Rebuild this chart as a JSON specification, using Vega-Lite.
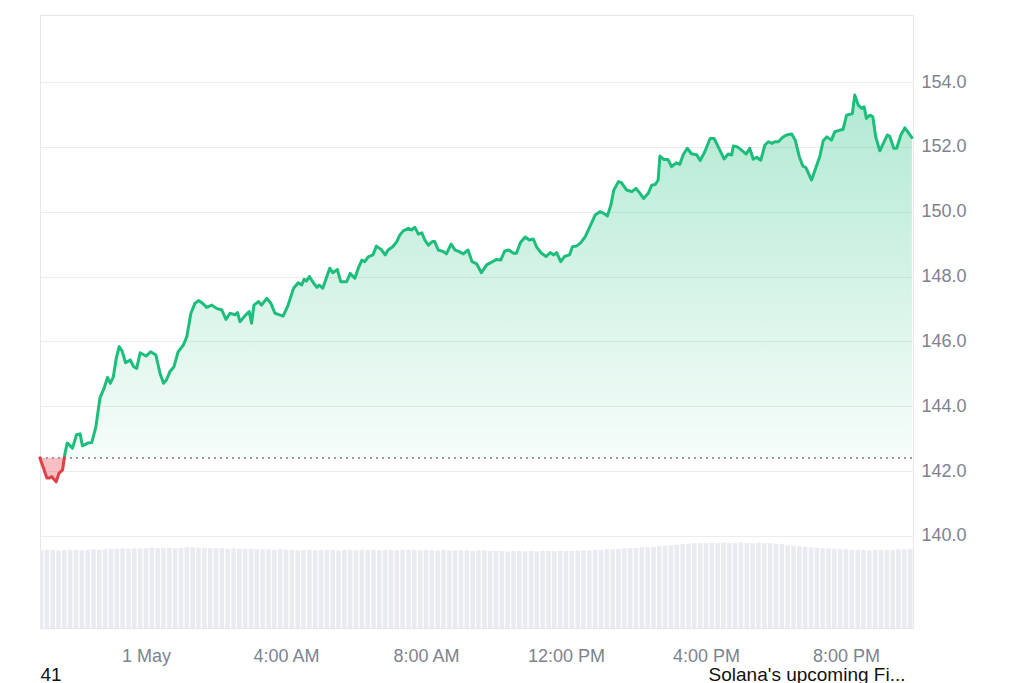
{
  "$schema": "https://vega.github.io/schema/vega-lite/v6.json",
  "width": 873,
  "height": 613,
  "autosize": {"type": "none"},
  "padding": {"left": 40, "top": 15, "right": 111, "bottom": 55},
  "background": "#ffffff",
  "config": {
    "view": {"stroke": "#e6e6e6", "strokeWidth": 1},
    "font": "Liberation Sans",
    "axis": {"labelFont": "Liberation Sans", "titleFont": "Liberation Sans"}
  },
  "datasets": {
    "price": [
      {"t":"2024-04-30T20:58:00Z","p":142.41},{"t":"2024-04-30T21:03:00Z","p":142.16},{"t":"2024-04-30T21:10:00Z","p":141.79},{"t":"2024-04-30T21:15:00Z","p":141.79},{"t":"2024-04-30T21:18:00Z","p":141.83},{"t":"2024-04-30T21:26:00Z","p":141.67},{"t":"2024-04-30T21:31:00Z","p":141.94},{"t":"2024-04-30T21:37:00Z","p":142.04},{"t":"2024-04-30T21:40:00Z","p":142.41},{"t":"2024-04-30T21:41:00Z","p":142.53},{"t":"2024-04-30T21:45:00Z","p":142.87},{"t":"2024-04-30T21:54:00Z","p":142.71},
      {"t":"2024-04-30T22:01:00Z","p":143.12},{"t":"2024-04-30T22:07:00Z","p":143.15},{"t":"2024-04-30T22:11:00Z","p":142.78},{"t":"2024-04-30T22:21:00Z","p":142.87},{"t":"2024-04-30T22:27:00Z","p":142.88},{"t":"2024-04-30T22:34:00Z","p":143.36},{"t":"2024-04-30T22:41:00Z","p":144.25},{"t":"2024-04-30T22:48:00Z","p":144.55},{"t":"2024-04-30T22:54:00Z","p":144.89},{"t":"2024-04-30T22:59:00Z","p":144.71},
      {"t":"2024-04-30T23:04:00Z","p":144.91},{"t":"2024-04-30T23:09:00Z","p":145.48},{"t":"2024-04-30T23:14:00Z","p":145.84},{"t":"2024-04-30T23:19:00Z","p":145.71},{"t":"2024-04-30T23:25:00Z","p":145.34},{"t":"2024-04-30T23:33:00Z","p":145.43},{"t":"2024-04-30T23:39:00Z","p":145.22},{"t":"2024-04-30T23:44:00Z","p":145.17},{"t":"2024-04-30T23:50:00Z","p":145.65},
      {"t":"2024-05-01T00:00:00Z","p":145.55},{"t":"2024-05-01T00:08:00Z","p":145.68},{"t":"2024-05-01T00:17:00Z","p":145.58},{"t":"2024-05-01T00:24:00Z","p":145.02},{"t":"2024-05-01T00:30:00Z","p":144.71},{"t":"2024-05-01T00:35:00Z","p":144.81},{"t":"2024-05-01T00:41:00Z","p":145.07},{"t":"2024-05-01T00:48:00Z","p":145.22},{"t":"2024-05-01T00:55:00Z","p":145.68},
      {"t":"2024-05-01T01:04:00Z","p":145.89},{"t":"2024-05-01T01:10:00Z","p":146.15},{"t":"2024-05-01T01:17:00Z","p":146.87},{"t":"2024-05-01T01:24:00Z","p":147.18},{"t":"2024-05-01T01:30:00Z","p":147.26},{"t":"2024-05-01T01:37:00Z","p":147.18},{"t":"2024-05-01T01:44:00Z","p":147.05},{"t":"2024-05-01T01:53:00Z","p":147.12},
      {"t":"2024-05-01T02:01:00Z","p":147.02},{"t":"2024-05-01T02:10:00Z","p":146.97},{"t":"2024-05-01T02:17:00Z","p":146.68},{"t":"2024-05-01T02:24:00Z","p":146.87},{"t":"2024-05-01T02:33:00Z","p":146.82},{"t":"2024-05-01T02:37:00Z","p":146.89},{"t":"2024-05-01T02:41:00Z","p":146.61},{"t":"2024-05-01T02:51:00Z","p":146.82},{"t":"2024-05-01T02:57:00Z","p":146.92},
      {"t":"2024-05-01T03:01:00Z","p":146.56},{"t":"2024-05-01T03:05:00Z","p":147.12},{"t":"2024-05-01T03:13:00Z","p":147.23},{"t":"2024-05-01T03:18:00Z","p":147.12},{"t":"2024-05-01T03:27:00Z","p":147.33},{"t":"2024-05-01T03:34:00Z","p":147.18},{"t":"2024-05-01T03:41:00Z","p":146.87},{"t":"2024-05-01T03:49:00Z","p":146.82},{"t":"2024-05-01T03:55:00Z","p":146.78},
      {"t":"2024-05-01T04:03:00Z","p":147.09},{"t":"2024-05-01T04:13:00Z","p":147.64},{"t":"2024-05-01T04:21:00Z","p":147.81},{"t":"2024-05-01T04:27:00Z","p":147.74},{"t":"2024-05-01T04:31:00Z","p":147.92},{"t":"2024-05-01T04:35:00Z","p":147.86},{"t":"2024-05-01T04:40:00Z","p":148.00},{"t":"2024-05-01T04:47:00Z","p":147.81},{"t":"2024-05-01T04:53:00Z","p":147.67},{"t":"2024-05-01T04:57:00Z","p":147.74},
      {"t":"2024-05-01T05:03:00Z","p":147.64},{"t":"2024-05-01T05:09:00Z","p":147.95},{"t":"2024-05-01T05:15:00Z","p":148.26},{"t":"2024-05-01T05:20:00Z","p":148.12},{"t":"2024-05-01T05:28:00Z","p":148.22},{"t":"2024-05-01T05:34:00Z","p":147.84},{"t":"2024-05-01T05:44:00Z","p":147.84},{"t":"2024-05-01T05:50:00Z","p":148.10},{"t":"2024-05-01T05:58:00Z","p":147.95},
      {"t":"2024-05-01T06:04:00Z","p":148.26},{"t":"2024-05-01T06:10:00Z","p":148.51},{"t":"2024-05-01T06:15:00Z","p":148.46},{"t":"2024-05-01T06:21:00Z","p":148.61},{"t":"2024-05-01T06:29:00Z","p":148.67},{"t":"2024-05-01T06:35:00Z","p":148.94},{"t":"2024-05-01T06:43:00Z","p":148.84},{"t":"2024-05-01T06:50:00Z","p":148.67},{"t":"2024-05-01T06:55:00Z","p":148.82},
      {"t":"2024-05-01T07:03:00Z","p":148.92},{"t":"2024-05-01T07:10:00Z","p":149.08},{"t":"2024-05-01T07:15:00Z","p":149.28},{"t":"2024-05-01T07:21:00Z","p":149.41},{"t":"2024-05-01T07:30:00Z","p":149.49},{"t":"2024-05-01T07:35:00Z","p":149.44},{"t":"2024-05-01T07:41:00Z","p":149.52},{"t":"2024-05-01T07:47:00Z","p":149.31},{"t":"2024-05-01T07:53:00Z","p":149.35},{"t":"2024-05-01T07:58:00Z","p":149.13},
      {"t":"2024-05-01T08:04:00Z","p":148.97},{"t":"2024-05-01T08:11:00Z","p":149.08},{"t":"2024-05-01T08:15:00Z","p":149.08},{"t":"2024-05-01T08:21:00Z","p":148.82},{"t":"2024-05-01T08:30:00Z","p":148.77},{"t":"2024-05-01T08:35:00Z","p":148.70},{"t":"2024-05-01T08:43:00Z","p":149.00},{"t":"2024-05-01T08:50:00Z","p":148.82},{"t":"2024-05-01T08:57:00Z","p":148.77},
      {"t":"2024-05-01T09:04:00Z","p":148.70},{"t":"2024-05-01T09:12:00Z","p":148.82},{"t":"2024-05-01T09:19:00Z","p":148.46},{"t":"2024-05-01T09:27:00Z","p":148.39},{"t":"2024-05-01T09:35:00Z","p":148.12},{"t":"2024-05-01T09:44:00Z","p":148.36},{"t":"2024-05-01T09:53:00Z","p":148.45},
      {"t":"2024-05-01T10:01:00Z","p":148.53},{"t":"2024-05-01T10:08:00Z","p":148.51},{"t":"2024-05-01T10:15:00Z","p":148.79},{"t":"2024-05-01T10:22:00Z","p":148.82},{"t":"2024-05-01T10:30:00Z","p":148.72},{"t":"2024-05-01T10:35:00Z","p":148.72},{"t":"2024-05-01T10:42:00Z","p":149.05},{"t":"2024-05-01T10:50:00Z","p":149.22},{"t":"2024-05-01T10:57:00Z","p":149.13},
      {"t":"2024-05-01T11:04:00Z","p":149.16},{"t":"2024-05-01T11:10:00Z","p":148.90},{"t":"2024-05-01T11:18:00Z","p":148.72},{"t":"2024-05-01T11:26:00Z","p":148.62},{"t":"2024-05-01T11:33:00Z","p":148.74},{"t":"2024-05-01T11:39:00Z","p":148.67},{"t":"2024-05-01T11:44:00Z","p":148.74},{"t":"2024-05-01T11:51:00Z","p":148.46},{"t":"2024-05-01T11:58:00Z","p":148.63},
      {"t":"2024-05-01T12:06:00Z","p":148.67},{"t":"2024-05-01T12:11:00Z","p":148.92},{"t":"2024-05-01T12:18:00Z","p":148.94},{"t":"2024-05-01T12:25:00Z","p":149.04},{"t":"2024-05-01T12:33:00Z","p":149.23},{"t":"2024-05-01T12:41:00Z","p":149.54},{"t":"2024-05-01T12:50:00Z","p":149.90},{"t":"2024-05-01T12:58:00Z","p":150.00},
      {"t":"2024-05-01T13:05:00Z","p":149.95},{"t":"2024-05-01T13:11:00Z","p":149.87},{"t":"2024-05-01T13:17:00Z","p":150.21},{"t":"2024-05-01T13:22:00Z","p":150.67},{"t":"2024-05-01T13:30:00Z","p":150.93},{"t":"2024-05-01T13:35:00Z","p":150.90},{"t":"2024-05-01T13:44:00Z","p":150.67},{"t":"2024-05-01T13:53:00Z","p":150.62},
      {"t":"2024-05-01T14:00:00Z","p":150.72},{"t":"2024-05-01T14:06:00Z","p":150.59},{"t":"2024-05-01T14:13:00Z","p":150.41},{"t":"2024-05-01T14:21:00Z","p":150.57},{"t":"2024-05-01T14:27:00Z","p":150.82},{"t":"2024-05-01T14:33:00Z","p":150.84},{"t":"2024-05-01T14:38:00Z","p":150.98},{"t":"2024-05-01T14:41:00Z","p":151.72},{"t":"2024-05-01T14:48:00Z","p":151.61},{"t":"2024-05-01T14:55:00Z","p":151.61},
      {"t":"2024-05-01T15:01:00Z","p":151.39},{"t":"2024-05-01T15:09:00Z","p":151.51},{"t":"2024-05-01T15:15:00Z","p":151.46},{"t":"2024-05-01T15:21:00Z","p":151.76},{"t":"2024-05-01T15:28:00Z","p":151.96},{"t":"2024-05-01T15:35:00Z","p":151.79},{"t":"2024-05-01T15:44:00Z","p":151.76},{"t":"2024-05-01T15:50:00Z","p":151.58},{"t":"2024-05-01T15:58:00Z","p":151.85},
      {"t":"2024-05-01T16:07:00Z","p":152.26},{"t":"2024-05-01T16:14:00Z","p":152.26},{"t":"2024-05-01T16:21:00Z","p":152.00},{"t":"2024-05-01T16:31:00Z","p":151.63},{"t":"2024-05-01T16:38:00Z","p":151.78},{"t":"2024-05-01T16:44:00Z","p":151.75},{"t":"2024-05-01T16:47:00Z","p":152.03},{"t":"2024-05-01T16:54:00Z","p":152.00},
      {"t":"2024-05-01T17:03:00Z","p":151.87},{"t":"2024-05-01T17:09:00Z","p":151.78},{"t":"2024-05-01T17:15:00Z","p":151.96},{"t":"2024-05-01T17:21:00Z","p":151.62},{"t":"2024-05-01T17:27:00Z","p":151.68},{"t":"2024-05-01T17:34:00Z","p":151.59},{"t":"2024-05-01T17:41:00Z","p":152.06},{"t":"2024-05-01T17:47:00Z","p":152.16},{"t":"2024-05-01T17:53:00Z","p":152.11},{"t":"2024-05-01T17:58:00Z","p":152.16},
      {"t":"2024-05-01T18:04:00Z","p":152.16},{"t":"2024-05-01T18:11:00Z","p":152.29},{"t":"2024-05-01T18:18:00Z","p":152.37},{"t":"2024-05-01T18:27:00Z","p":152.40},{"t":"2024-05-01T18:33:00Z","p":152.21},{"t":"2024-05-01T18:40:00Z","p":151.70},{"t":"2024-05-01T18:46:00Z","p":151.41},{"t":"2024-05-01T18:51:00Z","p":151.37},
      {"t":"2024-05-01T19:01:00Z","p":150.98},{"t":"2024-05-01T19:10:00Z","p":151.44},{"t":"2024-05-01T19:15:00Z","p":151.70},{"t":"2024-05-01T19:21:00Z","p":152.19},{"t":"2024-05-01T19:27:00Z","p":152.31},{"t":"2024-05-01T19:35:00Z","p":152.21},{"t":"2024-05-01T19:41:00Z","p":152.47},{"t":"2024-05-01T19:50:00Z","p":152.52},{"t":"2024-05-01T19:55:00Z","p":152.54},
      {"t":"2024-05-01T20:01:00Z","p":152.98},{"t":"2024-05-01T20:07:00Z","p":153.01},{"t":"2024-05-01T20:11:00Z","p":153.03},{"t":"2024-05-01T20:15:00Z","p":153.60},{"t":"2024-05-01T20:21:00Z","p":153.29},{"t":"2024-05-01T20:27:00Z","p":153.19},{"t":"2024-05-01T20:31:00Z","p":153.24},{"t":"2024-05-01T20:35:00Z","p":152.88},{"t":"2024-05-01T20:41:00Z","p":152.98},{"t":"2024-05-01T20:46:00Z","p":152.93},{"t":"2024-05-01T20:51:00Z","p":152.31},{"t":"2024-05-01T20:58:00Z","p":151.88},
      {"t":"2024-05-01T21:04:00Z","p":152.11},{"t":"2024-05-01T21:11:00Z","p":152.37},{"t":"2024-05-01T21:15:00Z","p":152.33},{"t":"2024-05-01T21:22:00Z","p":151.96},{"t":"2024-05-01T21:27:00Z","p":151.96},{"t":"2024-05-01T21:34:00Z","p":152.37},{"t":"2024-05-01T21:41:00Z","p":152.59},{"t":"2024-05-01T21:47:00Z","p":152.44},{"t":"2024-05-01T21:53:00Z","p":152.29}
    ],
    "volume": [
      {"t":"2024-04-30T21:00:00Z","v":15.2},{"t":"2024-04-30T21:10:00Z","v":15.3},{"t":"2024-04-30T21:20:00Z","v":15.3},{"t":"2024-04-30T21:30:00Z","v":15.2},{"t":"2024-04-30T21:40:00Z","v":15.3},{"t":"2024-04-30T21:50:00Z","v":15.3},
      {"t":"2024-04-30T22:00:00Z","v":15.3},{"t":"2024-04-30T22:10:00Z","v":15.2},{"t":"2024-04-30T22:20:00Z","v":15.3},{"t":"2024-04-30T22:30:00Z","v":15.4},{"t":"2024-04-30T22:40:00Z","v":15.3},{"t":"2024-04-30T22:50:00Z","v":15.4},
      {"t":"2024-04-30T23:00:00Z","v":15.5},{"t":"2024-04-30T23:10:00Z","v":15.5},{"t":"2024-04-30T23:20:00Z","v":15.6},{"t":"2024-04-30T23:30:00Z","v":15.5},{"t":"2024-04-30T23:40:00Z","v":15.6},{"t":"2024-04-30T23:50:00Z","v":15.6},
      {"t":"2024-05-01T00:00:00Z","v":15.6},{"t":"2024-05-01T00:10:00Z","v":15.7},{"t":"2024-05-01T00:20:00Z","v":15.6},{"t":"2024-05-01T00:30:00Z","v":15.7},{"t":"2024-05-01T00:40:00Z","v":15.7},{"t":"2024-05-01T00:50:00Z","v":15.6},
      {"t":"2024-05-01T01:00:00Z","v":15.7},{"t":"2024-05-01T01:10:00Z","v":15.8},{"t":"2024-05-01T01:20:00Z","v":15.8},{"t":"2024-05-01T01:30:00Z","v":15.7},{"t":"2024-05-01T01:40:00Z","v":15.7},{"t":"2024-05-01T01:50:00Z","v":15.6},
      {"t":"2024-05-01T02:00:00Z","v":15.6},{"t":"2024-05-01T02:10:00Z","v":15.6},{"t":"2024-05-01T02:20:00Z","v":15.5},{"t":"2024-05-01T02:30:00Z","v":15.6},{"t":"2024-05-01T02:40:00Z","v":15.5},{"t":"2024-05-01T02:50:00Z","v":15.5},
      {"t":"2024-05-01T03:00:00Z","v":15.5},{"t":"2024-05-01T03:10:00Z","v":15.4},{"t":"2024-05-01T03:20:00Z","v":15.4},{"t":"2024-05-01T03:30:00Z","v":15.4},{"t":"2024-05-01T03:40:00Z","v":15.3},{"t":"2024-05-01T03:50:00Z","v":15.4},
      {"t":"2024-05-01T04:00:00Z","v":15.3},{"t":"2024-05-01T04:10:00Z","v":15.3},{"t":"2024-05-01T04:20:00Z","v":15.2},{"t":"2024-05-01T04:30:00Z","v":15.3},{"t":"2024-05-01T04:40:00Z","v":15.3},{"t":"2024-05-01T04:50:00Z","v":15.2},
      {"t":"2024-05-01T05:00:00Z","v":15.3},{"t":"2024-05-01T05:10:00Z","v":15.3},{"t":"2024-05-01T05:20:00Z","v":15.3},{"t":"2024-05-01T05:30:00Z","v":15.2},{"t":"2024-05-01T05:40:00Z","v":15.3},{"t":"2024-05-01T05:50:00Z","v":15.3},
      {"t":"2024-05-01T06:00:00Z","v":15.2},{"t":"2024-05-01T06:10:00Z","v":15.3},{"t":"2024-05-01T06:20:00Z","v":15.3},{"t":"2024-05-01T06:30:00Z","v":15.3},{"t":"2024-05-01T06:40:00Z","v":15.2},{"t":"2024-05-01T06:50:00Z","v":15.3},
      {"t":"2024-05-01T07:00:00Z","v":15.3},{"t":"2024-05-01T07:10:00Z","v":15.2},{"t":"2024-05-01T07:20:00Z","v":15.3},{"t":"2024-05-01T07:30:00Z","v":15.3},{"t":"2024-05-01T07:40:00Z","v":15.3},{"t":"2024-05-01T07:50:00Z","v":15.2},
      {"t":"2024-05-01T08:00:00Z","v":15.3},{"t":"2024-05-01T08:10:00Z","v":15.2},{"t":"2024-05-01T08:20:00Z","v":15.2},{"t":"2024-05-01T08:30:00Z","v":15.3},{"t":"2024-05-01T08:40:00Z","v":15.2},{"t":"2024-05-01T08:50:00Z","v":15.2},
      {"t":"2024-05-01T09:00:00Z","v":15.2},{"t":"2024-05-01T09:10:00Z","v":15.2},{"t":"2024-05-01T09:20:00Z","v":15.1},{"t":"2024-05-01T09:30:00Z","v":15.2},{"t":"2024-05-01T09:40:00Z","v":15.2},{"t":"2024-05-01T09:50:00Z","v":15.1},
      {"t":"2024-05-01T10:00:00Z","v":15.1},{"t":"2024-05-01T10:10:00Z","v":15.1},{"t":"2024-05-01T10:20:00Z","v":15.0},{"t":"2024-05-01T10:30:00Z","v":15.1},{"t":"2024-05-01T10:40:00Z","v":15.1},{"t":"2024-05-01T10:50:00Z","v":15.0},
      {"t":"2024-05-01T11:00:00Z","v":15.1},{"t":"2024-05-01T11:10:00Z","v":15.0},{"t":"2024-05-01T11:20:00Z","v":15.1},{"t":"2024-05-01T11:30:00Z","v":15.1},{"t":"2024-05-01T11:40:00Z","v":15.0},{"t":"2024-05-01T11:50:00Z","v":15.1},
      {"t":"2024-05-01T12:00:00Z","v":15.1},{"t":"2024-05-01T12:10:00Z","v":15.1},{"t":"2024-05-01T12:20:00Z","v":15.2},{"t":"2024-05-01T12:30:00Z","v":15.2},{"t":"2024-05-01T12:40:00Z","v":15.2},{"t":"2024-05-01T12:50:00Z","v":15.3},
      {"t":"2024-05-01T13:00:00Z","v":15.3},{"t":"2024-05-01T13:10:00Z","v":15.4},{"t":"2024-05-01T13:20:00Z","v":15.4},{"t":"2024-05-01T13:30:00Z","v":15.5},{"t":"2024-05-01T13:40:00Z","v":15.6},{"t":"2024-05-01T13:50:00Z","v":15.6},
      {"t":"2024-05-01T14:00:00Z","v":15.7},{"t":"2024-05-01T14:10:00Z","v":15.8},{"t":"2024-05-01T14:20:00Z","v":15.8},{"t":"2024-05-01T14:30:00Z","v":15.9},{"t":"2024-05-01T14:40:00Z","v":16.0},{"t":"2024-05-01T14:50:00Z","v":16.1},
      {"t":"2024-05-01T15:00:00Z","v":16.2},{"t":"2024-05-01T15:10:00Z","v":16.3},{"t":"2024-05-01T15:20:00Z","v":16.4},{"t":"2024-05-01T15:30:00Z","v":16.5},{"t":"2024-05-01T15:40:00Z","v":16.6},{"t":"2024-05-01T15:50:00Z","v":16.6},
      {"t":"2024-05-01T16:00:00Z","v":16.6},{"t":"2024-05-01T16:10:00Z","v":16.7},{"t":"2024-05-01T16:20:00Z","v":16.6},{"t":"2024-05-01T16:30:00Z","v":16.7},{"t":"2024-05-01T16:40:00Z","v":16.6},{"t":"2024-05-01T16:50:00Z","v":16.6},
      {"t":"2024-05-01T17:00:00Z","v":16.7},{"t":"2024-05-01T17:10:00Z","v":16.6},{"t":"2024-05-01T17:20:00Z","v":16.6},{"t":"2024-05-01T17:30:00Z","v":16.7},{"t":"2024-05-01T17:40:00Z","v":16.6},{"t":"2024-05-01T17:50:00Z","v":16.6},
      {"t":"2024-05-01T18:00:00Z","v":16.5},{"t":"2024-05-01T18:10:00Z","v":16.4},{"t":"2024-05-01T18:20:00Z","v":16.2},{"t":"2024-05-01T18:30:00Z","v":16.1},{"t":"2024-05-01T18:40:00Z","v":16.0},{"t":"2024-05-01T18:50:00Z","v":15.9},
      {"t":"2024-05-01T19:00:00Z","v":15.8},{"t":"2024-05-01T19:10:00Z","v":15.7},{"t":"2024-05-01T19:20:00Z","v":15.6},{"t":"2024-05-01T19:30:00Z","v":15.6},{"t":"2024-05-01T19:40:00Z","v":15.5},{"t":"2024-05-01T19:50:00Z","v":15.4},
      {"t":"2024-05-01T20:00:00Z","v":15.4},{"t":"2024-05-01T20:10:00Z","v":15.3},{"t":"2024-05-01T20:20:00Z","v":15.3},{"t":"2024-05-01T20:30:00Z","v":15.3},{"t":"2024-05-01T20:40:00Z","v":15.2},{"t":"2024-05-01T20:50:00Z","v":15.3},
      {"t":"2024-05-01T21:00:00Z","v":15.3},{"t":"2024-05-01T21:10:00Z","v":15.3},{"t":"2024-05-01T21:20:00Z","v":15.3},{"t":"2024-05-01T21:30:00Z","v":15.4},{"t":"2024-05-01T21:40:00Z","v":15.4},{"t":"2024-05-01T21:50:00Z","v":15.4}
    ]
  },
  "encoding": {
    "x": {
      "field": "t",
      "type": "temporal",
      "scale": {
        "type": "utc",
        "padding": 0,
        "domain": [
          {"year": 2024, "month": 4, "date": 30, "hours": 20, "minutes": 58, "seconds": 17, "utc": true},
          {"year": 2024, "month": 5, "date": 1, "hours": 21, "minutes": 54, "seconds": 54, "utc": true}
        ]
      },
      "axis": {
        "values": [
          {"year": 2024, "month": 5, "date": 1, "hours": 0, "utc": true},
          {"year": 2024, "month": 5, "date": 1, "hours": 4, "utc": true},
          {"year": 2024, "month": 5, "date": 1, "hours": 8, "utc": true},
          {"year": 2024, "month": 5, "date": 1, "hours": 12, "utc": true},
          {"year": 2024, "month": 5, "date": 1, "hours": 16, "utc": true},
          {"year": 2024, "month": 5, "date": 1, "hours": 20, "utc": true}
        ],
        "labelExpr": "utchours(datum.value) == 0 ? '1 May' : utcFormat(datum.value, '%-I:%M %p')",
        "labelFontSize": 18,
        "labelColor": "#7d8390",
        "labelPadding": 19,
        "domain": false,
        "ticks": false,
        "grid": false,
        "labelFlush": false,
        "labelOverlap": false,
        "title": "41",
        "titleX": 0,
        "titleY": 52,
        "titleAlign": "left",
        "titleBaseline": "alphabetic",
        "titleFontSize": 19,
        "titleFontWeight": "normal",
        "titleColor": "#111111"
      }
    }
  },
  "layer": [
    {
      "data": {"name": "volume"},
      "mark": {"type": "bar", "color": "#e9ebf0", "size": 4.6, "clip": true},
      "encoding": {
        "y": {"field": "v", "type": "quantitative", "scale": {"domain": [0, 120], "nice": false}, "axis": null}
      }
    },
    {
      "data": {"name": "price"},
      "encoding": {
        "y": {
          "field": "p",
          "type": "quantitative",
          "scale": {"domain": [137.16, 156.07], "nice": false, "zero": false},
          "axis": {
            "orient": "right",
            "values": [140, 142, 144, 146, 148, 150, 152, 154],
            "format": ".1f",
            "labelFontSize": 18,
            "labelColor": "#7d8390",
            "labelPadding": 8,
            "domain": false,
            "ticks": false,
            "grid": true,
            "gridColor": "#ececec",
            "gridWidth": 1,
            "title": "Solana's upcoming Fi...",
            "titleAngle": 0,
            "titleX": -8,
            "titleY": 665,
            "titleAlign": "right",
            "titleBaseline": "alphabetic",
            "titleFontSize": 19,
            "titleFontWeight": "normal",
            "titleColor": "#111111"
          }
        }
      },
      "layer": [
        {
          "transform": [{"filter": "time(datum.t) >= time('2024-04-30T21:40:00Z')"}],
          "mark": {
            "type": "area",
            "line": false,
            "color": {
              "gradient": "linear",
              "x1": 0, "y1": 0, "x2": 0, "y2": 1,
              "stops": [
                {"offset": 0, "color": "rgba(28,191,124,0.34)"},
                {"offset": 1, "color": "rgba(28,191,124,0.04)"}
              ]
            }
          },
          "encoding": {"y2": {"datum": 142.41}}
        },
        {
          "transform": [{"filter": "time(datum.t) <= time('2024-04-30T21:40:00Z')"}],
          "mark": {"type": "area", "line": false, "color": "rgba(234,57,67,0.32)"},
          "encoding": {"y2": {"datum": 142.41}}
        },
        {
          "mark": {"type": "rule", "color": "#9a9a9a", "strokeDash": [1.5, 4.5], "strokeWidth": 1.3},
          "encoding": {
            "y": {"datum": 142.41},
            "x": {"datum": {"year": 2024, "month": 4, "date": 30, "hours": 20, "minutes": 58, "seconds": 17, "utc": true}, "type": "temporal"},
            "x2": {"datum": {"year": 2024, "month": 5, "date": 1, "hours": 21, "minutes": 54, "seconds": 54, "utc": true}}
          }
        },
        {
          "transform": [{"filter": "time(datum.t) >= time('2024-04-30T21:40:00Z')"}],
          "mark": {"type": "line", "color": "#1dbd7b", "strokeWidth": 3, "strokeJoin": "round", "strokeCap": "round"},
          "encoding": {}
        },
        {
          "transform": [{"filter": "time(datum.t) <= time('2024-04-30T21:40:00Z')"}],
          "mark": {"type": "line", "color": "#e0404a", "strokeWidth": 3, "strokeJoin": "round", "strokeCap": "round"},
          "encoding": {}
        }
      ]
    }
  ],
  "resolve": {"scale": {"y": "independent"}}
}
